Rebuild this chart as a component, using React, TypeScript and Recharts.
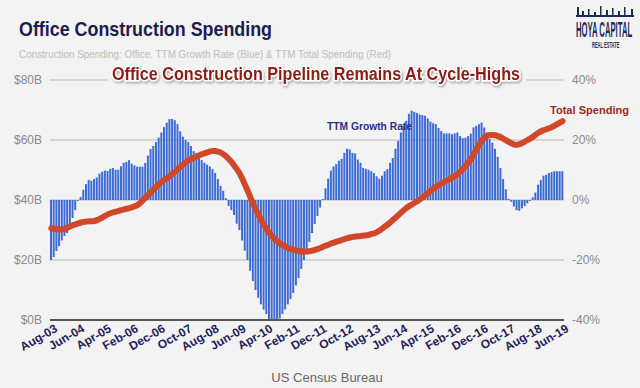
import {
  Bar,
  CartesianGrid,
  ComposedChart,
  Line,
  ReferenceLine,
  XAxis,
  YAxis,
} from 'recharts';

// monthly, Aug-03 .. Jun-19
const MONTH_NAMES = ['Jan', 'Feb', 'Mar', 'Apr', 'May', 'Jun', 'Jul', 'Aug', 'Sep', 'Oct', 'Nov', 'Dec'];
const START_YEAR = 2003;
const START_MONTH = 7; // Aug

// TTM growth rate, % (right axis)
const growthRate = [
  -20, -19, -17, -15.4, -13.5, -12, -11, -8.4, -6, -3.4,
  -0.3, 1, 3.4, 5.3, 6.7, 6.4, 7, 7.5, 8.8, 9.4,
  9.8, 9.7, 10.4, 10.7, 10.1, 10.1, 11.2, 12.4, 12.7, 13.3,
  12.1, 11.5, 11.1, 11.1, 11.1, 12.4, 14.8, 17, 18, 19.3,
  20.8, 22.5, 24.3, 25.8, 27, 27, 26.6, 25.3, 22.9, 21.1,
  20, 19.3, 18, 16.3, 15.7, 14, 13.3, 12.4, 11.8, 11.2,
  10.3, 9, 7, 4.7, 3.1, 0.6, -2, -3.4, -5, -7.9,
  -10, -13.5, -16.9, -20, -23.6, -27, -30, -32.6, -34.8, -36.5,
  -38, -39.9, -40, -40, -40, -39.5, -38, -36.5, -34.8, -33,
  -31, -28.5, -26, -23, -20, -17, -14, -11, -8, -5.3,
  -2.5, 0.3, 3.9, 7.1, 9.8, 11.2, 12, 13.1, 13.7, 15.7,
  17.1, 16.9, 15.7, 15.5, 13.5, 12.4, 10.7, 10.4, 10.1, 9.6,
  9, 7.9, 7.1, 8.1, 9.6, 10.3, 12.4, 14, 17.1, 19.7,
  22.5, 24.7, 26.4, 28.7, 29.8, 29.4, 29, 28.5, 28.3, 28.1,
  27.2, 26.1, 25.6, 25.3, 24, 23, 22.2, 22.2, 22.2, 21.9,
  22.2, 22.5, 21.3, 20.6, 20.8, 21.3, 22.1, 24.2, 24.7, 25.3,
  25.8, 24.2, 22.5, 20.4, 19.1, 17.1, 14.4, 10.7, 7, 3.6,
  0.4, -0.6, -2.2, -3.4, -3.6, -2.8, -2, -1.1, -0.3, 0.9,
  2.5, 5.1, 6.7, 8.1, 8.4, 9, 9.3, 9.6, 9.6, 9.6,
  9.6,
];

// TTM total spending, $B (left axis)
const totalSpending = [
  30.6, 30.4, 30.3, 30.2, 30.2, 30.4, 30.8, 31.2, 31.6, 31.9,
  32.2, 32.5, 32.7, 32.8, 32.9, 32.9, 33.0, 33.3, 33.7, 34.2,
  34.7, 35.2, 35.6, 35.9, 36.1, 36.4, 36.6, 36.9, 37.1, 37.3,
  37.6, 37.9, 38.3, 39.0, 39.9, 40.8, 41.7, 42.6, 43.5, 44.4,
  45.3, 46.0, 46.7, 47.3, 48.0, 48.8, 49.5, 50.3, 51.1, 51.9,
  52.6, 53.3, 53.7, 54.1, 54.5, 54.9, 55.3, 55.6, 55.9, 56.2,
  56.3, 56.3, 56.1, 55.8, 55.2, 54.5, 53.6, 52.6, 51.4, 50.2,
  48.8, 47.0, 45.0, 43.0, 40.8, 38.7, 36.8, 35.0, 33.3, 31.7,
  30.3, 29.0, 27.9, 27.0, 26.2, 25.5, 24.9, 24.4, 24.0, 23.7,
  23.4, 23.2, 23.0, 22.9, 22.8, 22.8, 22.9, 23.1, 23.4, 23.7,
  24.0, 24.4, 24.8, 25.1, 25.5, 25.8, 26.1, 26.4, 26.7, 27.0,
  27.3, 27.5, 27.7, 27.8, 27.9, 28.0, 28.1, 28.2, 28.4, 28.7,
  28.9, 29.3, 29.8, 30.5, 31.2, 31.8, 32.6, 33.4, 34.2, 35.0,
  35.8, 36.6, 37.4, 38.0, 38.5, 39.1, 39.6, 40.2, 40.9, 41.6,
  42.3, 43.1, 43.8, 44.4, 45.0, 45.5, 46.0, 46.5, 47.0, 47.5,
  48.0, 48.7, 49.5, 50.4, 51.4, 52.5, 53.8, 55.3, 56.9, 58.5,
  59.8, 60.8, 61.4, 61.7, 61.7, 61.6, 61.3, 60.9, 60.4, 59.9,
  59.4, 58.9, 58.5, 58.4, 58.6, 59.0, 59.5, 60.0, 60.5, 61.1,
  61.8, 62.4, 62.9, 63.3, 63.6, 63.9, 64.3, 64.8, 65.3, 65.8,
  66.3,
];

const spendingTicks = [0, 20, 40, 60, 80];
const growthTicks = [-40, -20, 0, 20, 40];

const monthLabel = (i: number) => {
  const m = START_MONTH + i;
  const yr = START_YEAR + Math.floor(m / 12);
  return `${MONTH_NAMES[m % 12]}-${String(yr % 100).padStart(2, '0')}`;
};

const data = growthRate.map((g, i) => ({
  month: monthLabel(i),
  growth: g,
  spending: totalSpending[i],
}));

const FONT = '"Liberation Sans Narrow", "Liberation Sans", Arial, sans-serif';
const BOLD_FONT = '"Liberation Sans", Arial, sans-serif';
const BG = '#f3f3f3';

const MonthTick = ({ x, y, payload }: any) => (
  <text
    x={x + 7}
    y={y + 3}
    transform={`rotate(-30, ${x + 7}, ${y + 3})`}
    textAnchor="end"
    fill="#1f1d5c"
    fontSize={12}
    fontWeight="bold"
    fontFamily={FONT}
  >
    {payload.value}
  </text>
);

export default function App() {
  return (
    <div style={{ position: 'absolute', left: 0, top: 0, width: 640, height: 388, background: BG }}>
      <ComposedChart
        width={640}
        height={388}
        data={data}
        margin={{ top: 80, right: 38, bottom: 28, left: 0 }}
        barCategoryGap={0}
      >
        <CartesianGrid vertical={false} yAxisId="left" stroke="#cccccc" strokeWidth={1.5} />
        <XAxis
          dataKey="month"
          interval={9}
          tick={<MonthTick />}
          axisLine={false}
          tickLine={false}
          height={40}
        />
        <YAxis
          yAxisId="left"
          domain={[0, 80]}
          ticks={spendingTicks}
          tickFormatter={(v: number) => `$${v}B`}
          tick={{ fontSize: 12, fill: '#8a8a8a', fontFamily: FONT }}
          axisLine={false}
          tickLine={false}
          width={50}
        />
        <YAxis
          yAxisId="right"
          orientation="right"
          domain={[-40, 40]}
          ticks={growthTicks}
          tickFormatter={(v: number) => `${v}%`}
          tick={{ fontSize: 12, fill: '#8a8a8a', fontFamily: FONT }}
          axisLine={false}
          tickLine={false}
          width={38}
        />
        <ReferenceLine yAxisId="left" y={0} stroke="#555" strokeWidth={2} />
        <Bar yAxisId="right" dataKey="growth" fill="#3d6bd3" barSize={2} isAnimationActive={false} />
        <Line
          yAxisId="left"
          dataKey="spending"
          type="monotone"
          stroke="#d1472a"
          strokeWidth={6}
          strokeLinecap="round"
          dot={false}
          isAnimationActive={false}
        />
      </ComposedChart>

      <svg
        width={640}
        height={388}
        style={{ position: 'absolute', left: 0, top: 0, pointerEvents: 'none' }}
      >
        <defs>
          <filter id="shadow" x="-5%" y="-30%" width="110%" height="160%">
            <feDropShadow dx="1" dy="1.5" stdDeviation="1" floodColor="#000" floodOpacity="0.35" />
          </filter>
        </defs>
        <text
          x={19}
          y={36}
          fill="#1e1b50"
          fontSize={21}
          fontWeight="bold"
          fontFamily={FONT}
          textLength={253}
          lengthAdjust="spacingAndGlyphs"
        >
          Office Construction Spending
        </text>
        <text
          x={19}
          y={58}
          fill="#bdbdbd"
          fontSize={11.5}
          fontFamily={FONT}
          textLength={372}
          lengthAdjust="spacingAndGlyphs"
        >
          Construction Spending: Office. TTM Growth Rate (Blue) &amp; TTM Total Spending (Red)
        </text>

        <rect x={108} y={70} width={418} height={18} fill={BG} />
        <text
          x={112}
          y={80}
          fill="#8c1a15"
          fontSize={17.5}
          fontWeight="bold"
          fontFamily={BOLD_FONT}
          textLength={408}
          lengthAdjust="spacingAndGlyphs"
          stroke="#fff"
          strokeWidth={3}
          paintOrder="stroke"
          filter="url(#shadow)"
        >
          Office Construction Pipeline Remains At Cycle-Highs
        </text>

        <text
          x={327}
          y={130}
          fill="#2b2e86"
          fontSize={11}
          fontWeight="bold"
          fontFamily={BOLD_FONT}
          textLength={85}
          lengthAdjust="spacingAndGlyphs"
        >
          TTM Growth Rate
        </text>
        <text
          x={550}
          y={114}
          fill="#9a2a1c"
          fontSize={11}
          fontWeight="bold"
          fontFamily={BOLD_FONT}
          textLength={79}
          lengthAdjust="spacingAndGlyphs"
        >
          Total Spending
        </text>

        <text x={327} y={382} textAnchor="middle" fill="#666" fontSize={13} fontFamily={FONT}>
          US Census Bureau
        </text>

        {/* logo */}
        <g fill="#1e2a5a">
          <rect x={576} y={15} width={58} height={2} />
          <rect x={577} y={7} width={2} height={9} />
          <rect x={582} y={11} width={2} height={5} />
          <rect x={588} y={9} width={1.5} height={7} />
          <rect x={594} y={12} width={2} height={4} />
          <rect x={600} y={6} width={1.5} height={10} />
          <rect x={606} y={10} width={2} height={6} />
          <rect x={612} y={8} width={1.5} height={8} />
          <rect x={618} y={11} width={2} height={5} />
          <rect x={624} y={7} width={1.5} height={9} />
          <rect x={631} y={9} width={2} height={7} />
        </g>
        <text
          transform="translate(576, 37) scale(0.35, 1)"
          fill="#1e2a5a"
          fontSize={22}
          fontWeight="bold"
          fontFamily={BOLD_FONT}
        >
          HOYA CAPITAL
        </text>
        <text
          transform="translate(592, 48) scale(0.45, 1)"
          fill="#1e2a5a"
          fontSize={9}
          fontWeight="bold"
          fontFamily={BOLD_FONT}
        >
          REAL ESTATE
        </text>
      </svg>
    </div>
  );
}
